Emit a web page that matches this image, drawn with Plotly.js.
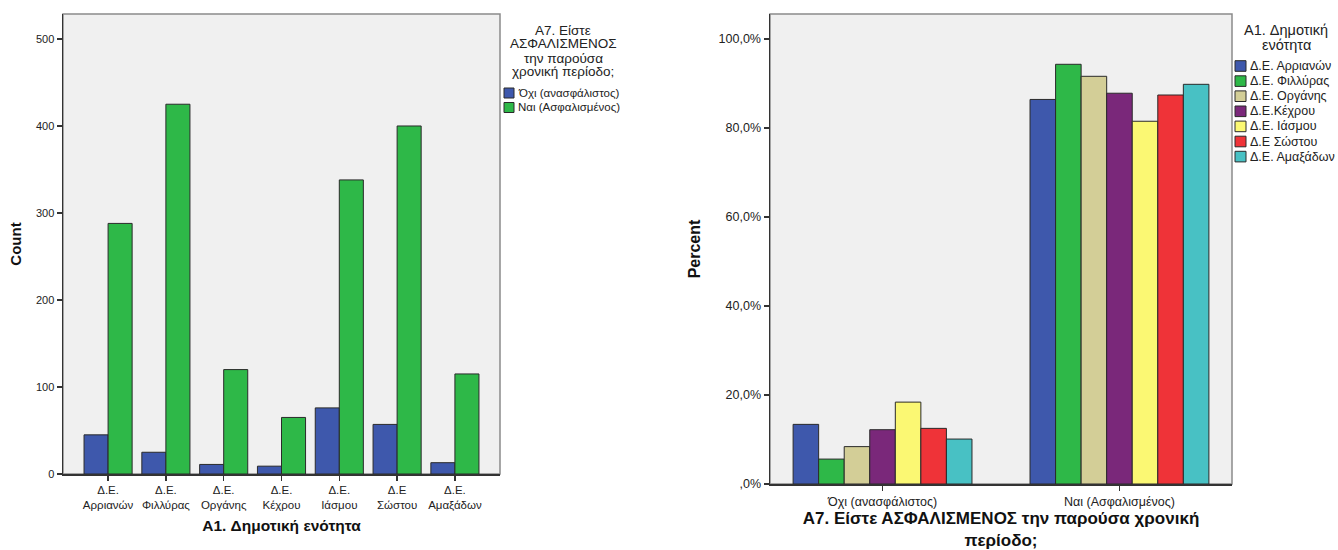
<!DOCTYPE html>
<html>
<head>
<meta charset="utf-8">
<script src="https://cdn.plot.ly/plotly-3.0.1.min.js"></script>
<style>html,body{margin:0;padding:0;background:#fff;}#chart{width:1338px;height:550px;}</style>
</head>
<body>
<div id="chart"></div>
<script>
// ---- Data ----
const districtLabels = ["Δ.Ε.<br>Αρριανών", "Δ.Ε.<br>Φιλλύρας", "Δ.Ε.<br>Οργάνης", "Δ.Ε.<br>Κέχρου", "Δ.Ε.<br>Ιάσμου", "Δ.Ε<br>Σώστου", "Δ.Ε.<br>Αμαξάδων"];
const districtNames = ["Δ.Ε. Αρριανών", "Δ.Ε. Φιλλύρας", "Δ.Ε. Οργάνης", "Δ.Ε.Κέχρου", "Δ.Ε. Ιάσμου", "Δ.Ε Σώστου", "Δ.Ε. Αμαξάδων"];
const insuranceLabels = ["Όχι (ανασφάλιστος)", "Ναι (Ασφαλισμένος)"];
const countNo = [45, 25, 11, 9, 76, 57, 13];
const countYes = [288, 425, 120, 65, 338, 400, 115];
// percent within each district: [Όχι, Ναι]
const pctArrianon = [13.4, 86.4];
const pctFillyras = [5.6, 94.3];
const pctOrganis = [8.4, 91.6];
const pctKechrou = [12.2, 87.8];
const pctIasmou = [18.4, 81.5];
const pctSostou = [12.5, 87.4];
const pctAmaxadon = [10.1, 89.8];
const pctSeries = [pctArrianon, pctFillyras, pctOrganis, pctKechrou, pctIasmou, pctSostou, pctAmaxadon];
const countTicks = [0, 100, 200, 300, 400, 500];
const pctTickVals = [0, 20, 40, 60, 80, 100];
const pctTickText = [",0%", "20,0%", "40,0%", "60,0%", "80,0%", "100,0%"];
const leftLegendTitle = ["A7. Είστε", "ΑΣΦΑΛΙΣΜΕΝΟΣ", "την παρούσα", "χρονική περίοδο;"];
const rightLegendTitle = ["A1. Δημοτική", "ενότητα"];

// ---- Styles ----
const insColors = ["#3E58AC", "#2EB848"];
const distColors = ["#3E58AC", "#2EB848", "#D3CE97", "#7A287A", "#FBF873", "#EF3338", "#48C1C4"];
const FONT = "Liberation Sans, Arial, sans-serif";
const W = 1338, H = 550;
const px = v => v / W;
const py = v => 1 - v / H;
const OUTLINE = "#2a2a2a";

const traces = [];
[countNo, countYes].forEach((vals, i) => {
  traces.push({
    type: "bar", x: districtLabels, y: vals, name: insuranceLabels[i],
    xaxis: "x", yaxis: "y", showlegend: false,
    marker: {color: insColors[i], line: {color: OUTLINE, width: 1}}
  });
});
const rGroup = 0.755, rW = rGroup / pctSeries.length;
pctSeries.forEach((vals, i) => {
  traces.push({
    type: "bar", x: insuranceLabels, y: vals, name: districtNames[i],
    xaxis: "x2", yaxis: "y2", showlegend: false,
    width: rW, offset: -rGroup / 2 + i * rW,
    marker: {color: distColors[i], line: {color: OUTLINE, width: 1}}
  });
});

const axisCommon = {
  showline: true, linecolor: "#333", linewidth: 1.5,
  ticks: "outside", ticklen: 5, tickcolor: "#333", tickwidth: 1.3,
  showgrid: false, zeroline: false,
  tickfont: {family: FONT, size: 11, color: "#222"}
};
const titleFont = s => ({family: FONT, size: s, color: "#111", weight: "bold"});

const shapes = [
  {type: "rect", xref: "x domain", yref: "y domain", x0: 0, x1: 1, y0: 0, y1: 1, layer: "below",
   line: {color: "#8a8a8a", width: 1.5}, fillcolor: "rgba(0,0,0,0)"},
  {type: "rect", xref: "x2 domain", yref: "y2 domain", x0: 0, x1: 1, y0: 0, y1: 1, layer: "below",
   line: {color: "#8a8a8a", width: 1.5}, fillcolor: "rgba(0,0,0,0)"}
];
const annotations = [];

// Legend 1 (insurance status)
leftLegendTitle.forEach((t, i) => annotations.push({
  text: t, xref: "paper", yref: "paper", x: px(563), y: py(30 + i * 14),
  xanchor: "center", yanchor: "middle", showarrow: false,
  font: {family: FONT, size: 13.5, color: "#222"}
}));
insuranceLabels.forEach((t, i) => {
  const cy = 93 + i * 14.5;
  shapes.push({type: "rect", xref: "paper", yref: "paper", x0: px(504), x1: px(514), y0: py(cy + 5), y1: py(cy - 5),
    line: {color: OUTLINE, width: 1}, fillcolor: insColors[i]});
  annotations.push({text: t, xref: "paper", yref: "paper", x: px(516), y: py(cy),
    xanchor: "left", yanchor: "middle", showarrow: false,
    font: {family: FONT, size: 11.5, color: "#222"}});
});

// Legend 2 (districts)
rightLegendTitle.forEach((t, i) => annotations.push({
  text: t, xref: "paper", yref: "paper", x: px(1286), y: py(30 + i * 15),
  xanchor: "center", yanchor: "middle", showarrow: false,
  font: {family: FONT, size: 14.5, color: "#222"}
}));
districtNames.forEach((t, i) => {
  const cy = 66 + i * 15.1;
  shapes.push({type: "rect", xref: "paper", yref: "paper", x0: px(1235), x1: px(1246), y0: py(cy + 5.3), y1: py(cy - 5.3),
    line: {color: OUTLINE, width: 1}, fillcolor: distColors[i]});
  annotations.push({text: t, xref: "paper", yref: "paper", x: px(1248), y: py(cy),
    xanchor: "left", yanchor: "middle", showarrow: false,
    font: {family: FONT, size: 12.5, color: "#222"}});
});

const layout = {
  width: W, height: H,
  margin: {l: 0, r: 0, t: 0, b: 0},
  paper_bgcolor: "#fff", plot_bgcolor: "#F0F0F0",
  font: {family: FONT, color: "#222"},
  barmode: "group",
  bargap: 0.168, bargroupgap: 0,
  showlegend: false,
  xaxis: Object.assign({}, axisCommon, {
    domain: [px(63), px(500)], anchor: "y",
    range: [-0.78, 6.78], type: "category",
    tickfont: {family: FONT, size: 11.5, color: "#222"},
    title: {text: "A1. Δημοτική ενότητα", standoff: 10, font: titleFont(15.5)}
  }),
  yaxis: Object.assign({}, axisCommon, {
    domain: [py(474), py(14)], anchor: "x",
    range: [0, 528.7], tickvals: countTicks, ticktext: countTicks.map(String),
    title: {text: "Count", standoff: 10, font: titleFont(15)}
  }),
  xaxis2: Object.assign({}, axisCommon, {
    domain: [px(770), px(1232)], anchor: "y2",
    range: [-0.475, 1.475], type: "category",
    tickfont: {family: FONT, size: 12.5, color: "#222"},
    title: {text: "A7. Είστε ΑΣΦΑΛΙΣΜΕΝΟΣ την παρούσα χρονική<br>περίοδο;", standoff: 8, font: titleFont(17)}
  }),
  yaxis2: Object.assign({}, axisCommon, {
    domain: [py(484), py(14)], anchor: "x2",
    range: [0, 105.6], tickvals: pctTickVals, ticktext: pctTickText,
    tickfont: {family: FONT, size: 12.5, color: "#222"},
    title: {text: "Percent", standoff: 14, font: titleFont(16)}
  }),
  shapes: shapes,
  annotations: annotations
};

Plotly.newPlot("chart", traces, layout, {displayModeBar: false, staticPlot: true});
</script>
</body>
</html>
